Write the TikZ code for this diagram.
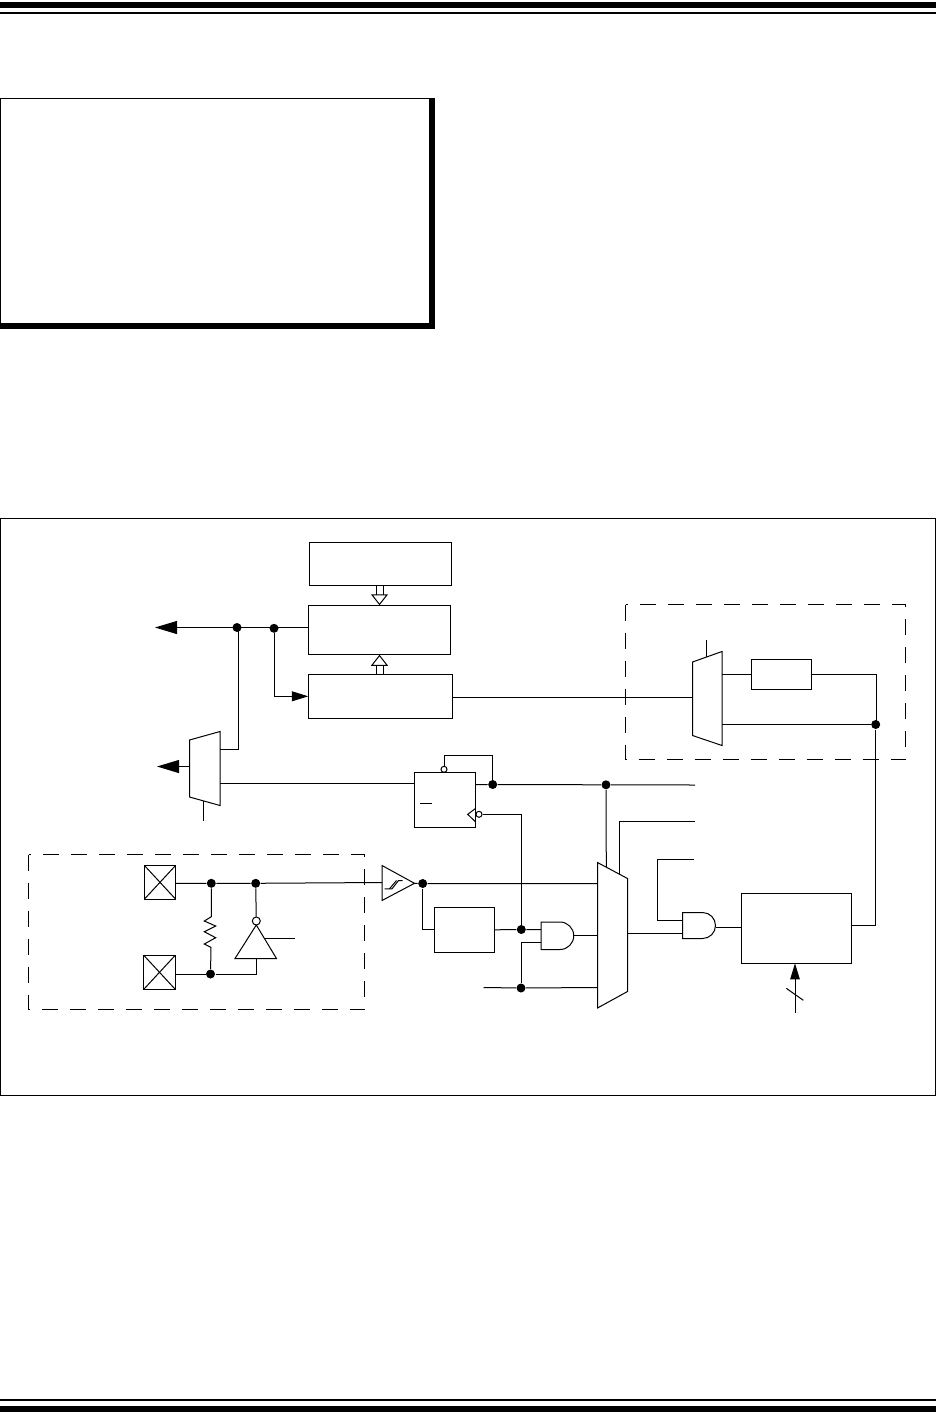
\documentclass[tikz,border=0pt]{standalone}
\usetikzlibrary{arrows.meta}
\tikzset{
  block/.style={draw,rectangle,inner sep=0pt,outer sep=0pt},
  dot/.style={circle,fill=black,inner sep=0pt,minimum size=9pt},
  bubble/.style={draw,circle,fill=white,inner sep=0pt,minimum size=#1},
  group/.style={dash pattern=on 16pt off 12pt},
  solidtip/.style 2 args={-{Triangle[length=#1,width=#2]}},
  bustip/.style={double,double distance=6pt,-{Triangle[open,length=11pt,width=17pt]}},
  pad/.style={block,minimum width=31.5pt,minimum height=34pt,
    append after command={(\tikzlastnode.north west) edge (\tikzlastnode.south east)
      (\tikzlastnode.north east) edge (\tikzlastnode.south west)}}
}
\begin{document}
\begin{tikzpicture}[x=1pt,y=-1pt,line width=1pt]
\useasboundingbox (0,0) rectangle (936,1428);
\fill (0,2) rectangle (936,8);
\fill (0,12) rectangle (936,14);
\fill (0,1399) rectangle (936,1401);
\fill (0,1406) rectangle (936,1412);
\fill (0,98) rectangle (435,329);
\fill[white] (1,99) rectangle (429,323);
\draw (.5,518) rectangle (935.5,1095);
\draw[group] (625.5,604.5) rectangle (905.5,759.5);
\draw[group] (28.5,854.5) rectangle (364.5,1009.5);

\node[block,minimum width=142.5pt,minimum height=43pt] (config) at (380.5,564) {};
\node[block,minimum width=142.5pt,minimum height=49.5pt] (latch) at (379.5,630) {};
\node[block,minimum width=144.5pt,minimum height=44pt] (count) at (380.5,696.3) {};
\node[block,minimum width=61.5pt,minimum height=55pt] (flop) at (445,799.8) {};
\node[block,minimum width=60.5pt,minimum height=45pt] (filter) at (464.5,929.8) {};
\node[block,minimum width=110pt,minimum height=70pt] (gate) at (796.3,928.3) {};
\node[block,minimum width=60.5pt,minimum height=30pt] (delay) at (781.5,674.3) {};
\node[pad] (padin) at (160,882.3) {};
\node[pad] (padout) at (159.5,972.3) {};

\draw[bustip] (latch.north |- config.south) -- (latch.north);
\draw[bustip] (latch.south |- count.north) -- (latch.south);

\coordinate (mA) at (189.5,740);
\coordinate (mB) at (220,731.5);
\coordinate (mC) at (220,805.5);
\coordinate (mD) at (189.5,797);
\draw (mA)--(mB)--(mC)--(mD)--cycle;
\coordinate (nA) at (692.5,662);
\coordinate (nB) at (722,651.5);
\coordinate (nC) at (722,745.5);
\coordinate (nD) at (692.5,735.5);
\draw (nA)--(nB)--(nC)--(nD)--cycle;
\coordinate (kA) at (597.5,862.5);
\coordinate (kB) at (627.5,878.5);
\coordinate (kC) at (627.5,991.5);
\coordinate (kD) at (597.5,1008);
\draw (kA)--(kB)--(kC)--(kD)--cycle;

\draw (541,922) -- (560,922) arc (-90:90:13.75) -- (541,949.5) -- cycle;
\draw (682.5,912.5) -- (702.5,912.5) arc (-90:90:13) -- (682.5,938.5) -- cycle;
\coordinate (andAa) at (541,929.5);
\coordinate (andAb) at (541,942.5);
\coordinate (andAo) at (573.7,935.5);
\coordinate (andBa) at (682.5,920);
\coordinate (andBb) at (682.5,933.5);
\coordinate (andBo) at (715.5,927.5);

\draw (382,865.5) -- (414.5,883.3) -- (382,900.5) -- cycle;
\draw (384.5,888.8) -- (392,888.8) -- (398.5,880.5) -- (402.5,880.5);
\draw (389.5,888.8) -- (396.5,880.5);
\coordinate (trig) at (414.5,883.3);
\coordinate (trigin) at (382,882.5);

\draw (235,958.5) -- (276.5,958.5) -- (256.3,925) -- cycle;
\node[bubble=8pt] (notbub) at (256.3,921) {};
\coordinate (notbase) at (256.5,958.5);
\coordinate (notena) at (265,938.7);
\coordinate (enaend) at (295,938.7);
\draw (notena) -- (enaend);

\node[dot] (busA) at (237,627.5) {};
\node[dot] (busB) at (274,628.3) {};
\node[dot] (qA) at (492.7,784.5) {};
\node[dot] (qB) at (606,784.8) {};
\node[dot] (trigdot) at (422.7,883.5) {};
\node[dot] (filtdot) at (521.3,929.5) {};
\node[dot] (lowdot) at (521,988) {};
\node[dot] (retdot) at (875.7,724.5) {};
\node[dot] (rtop) at (211.3,883.3) {};
\node[dot] (ntop) at (255.7,883.3) {};
\node[dot] (rbot) at (210.5,974) {};

\coordinate (busend) at (155,627.5);
\coordinate (outend) at (157,766.5);
\coordinate (qend) at (695,785);
\coordinate (selA) at (695,821.5);
\coordinate (selB) at (694,859.5);
\coordinate (lowend) at (483.5,987.5);
\coordinate (presel) at (203.5,800.5);
\coordinate (presend) at (203.5,820.5);
\coordinate (mselA) at (706.7,656.5);
\coordinate (mselB) at (706.7,640);
\coordinate (gateout) at (851.3,925.3);

\draw[solidtip={22pt}{13pt}] (latch.west |- busA) -- (busend);
\draw (238.3,627.5) |- (220,749.5);
\draw[solidtip={16.5pt}{10pt}] (busB) |- (count.west);
\draw[solidtip={22pt}{13pt}] (189.5,766.5) -- (outend);
\draw (presel) -- (presend);
\draw (220,783.5) -- (flop.west |- 0,783.5);
\draw (count.east |- 0,697.5) -- (692.5,697.5);
\draw (mselA) -- (mselB);
\draw (722,674.3) -- (delay.west);
\draw (delay.east) -| (876.3,725);
\draw (722,724.5) -- (retdot);
\draw (retdot) |- (gateout);

\node[bubble=6pt] (clr) at (444,769.3) {};
\draw (clr) |- (492.7,755.7) -- (qA);
\draw (flop.east |- qA) -- (qA) -- (qB) -- (qend);
\draw (qB) -- (606.3,867);
\draw (420,803.3) -- (432,803.3);
\draw (475.7,808.3) -- (467.7,814.3) -- (475.7,822);
\node[bubble=6pt] (clk) at (479,814.3) {};
\draw (clk) -| (filtdot);

\draw (padin.east |- rtop) -- (rtop) -- (ntop) -- (trigin);
\draw (padout.east |- rbot) -- (rbot) -| (notbase);
\draw (ntop) -- (notbub);
\draw (rtop) -- (211.3,916.7) -- (204.3,921) -- (215.7,926) -- (204.3,931.7) -- (215.7,937.7) -- (204.3,944) -- (211,947.3) -- (rbot);

\draw (trig) -- (trigdot) -- (597.5,883.5);
\draw (trigdot) |- (filter.west);
\draw (filter.east) -- (filtdot) -- (andAa);
\draw (andAb) -| (lowdot);
\draw (lowend) -- (lowdot) -- (597.5,987.5);
\draw (andAo) -- (597.5,935.5);
\draw (619.3,874) |- (selA);
\draw (627.5,933.5) -- (andBb);
\draw (selB) -| (657.5,920) -- (andBa);
\draw (andBo) -- (gate.west |- andBo);

\coordinate (clkend) at (795,1012.7);
\draw[solidtip={16pt}{9.5pt}] (clkend) -- (gate.south -| clkend);
\draw (786.3,988.3) -- (803.3,1000.3);
\end{tikzpicture}
\end{document}
